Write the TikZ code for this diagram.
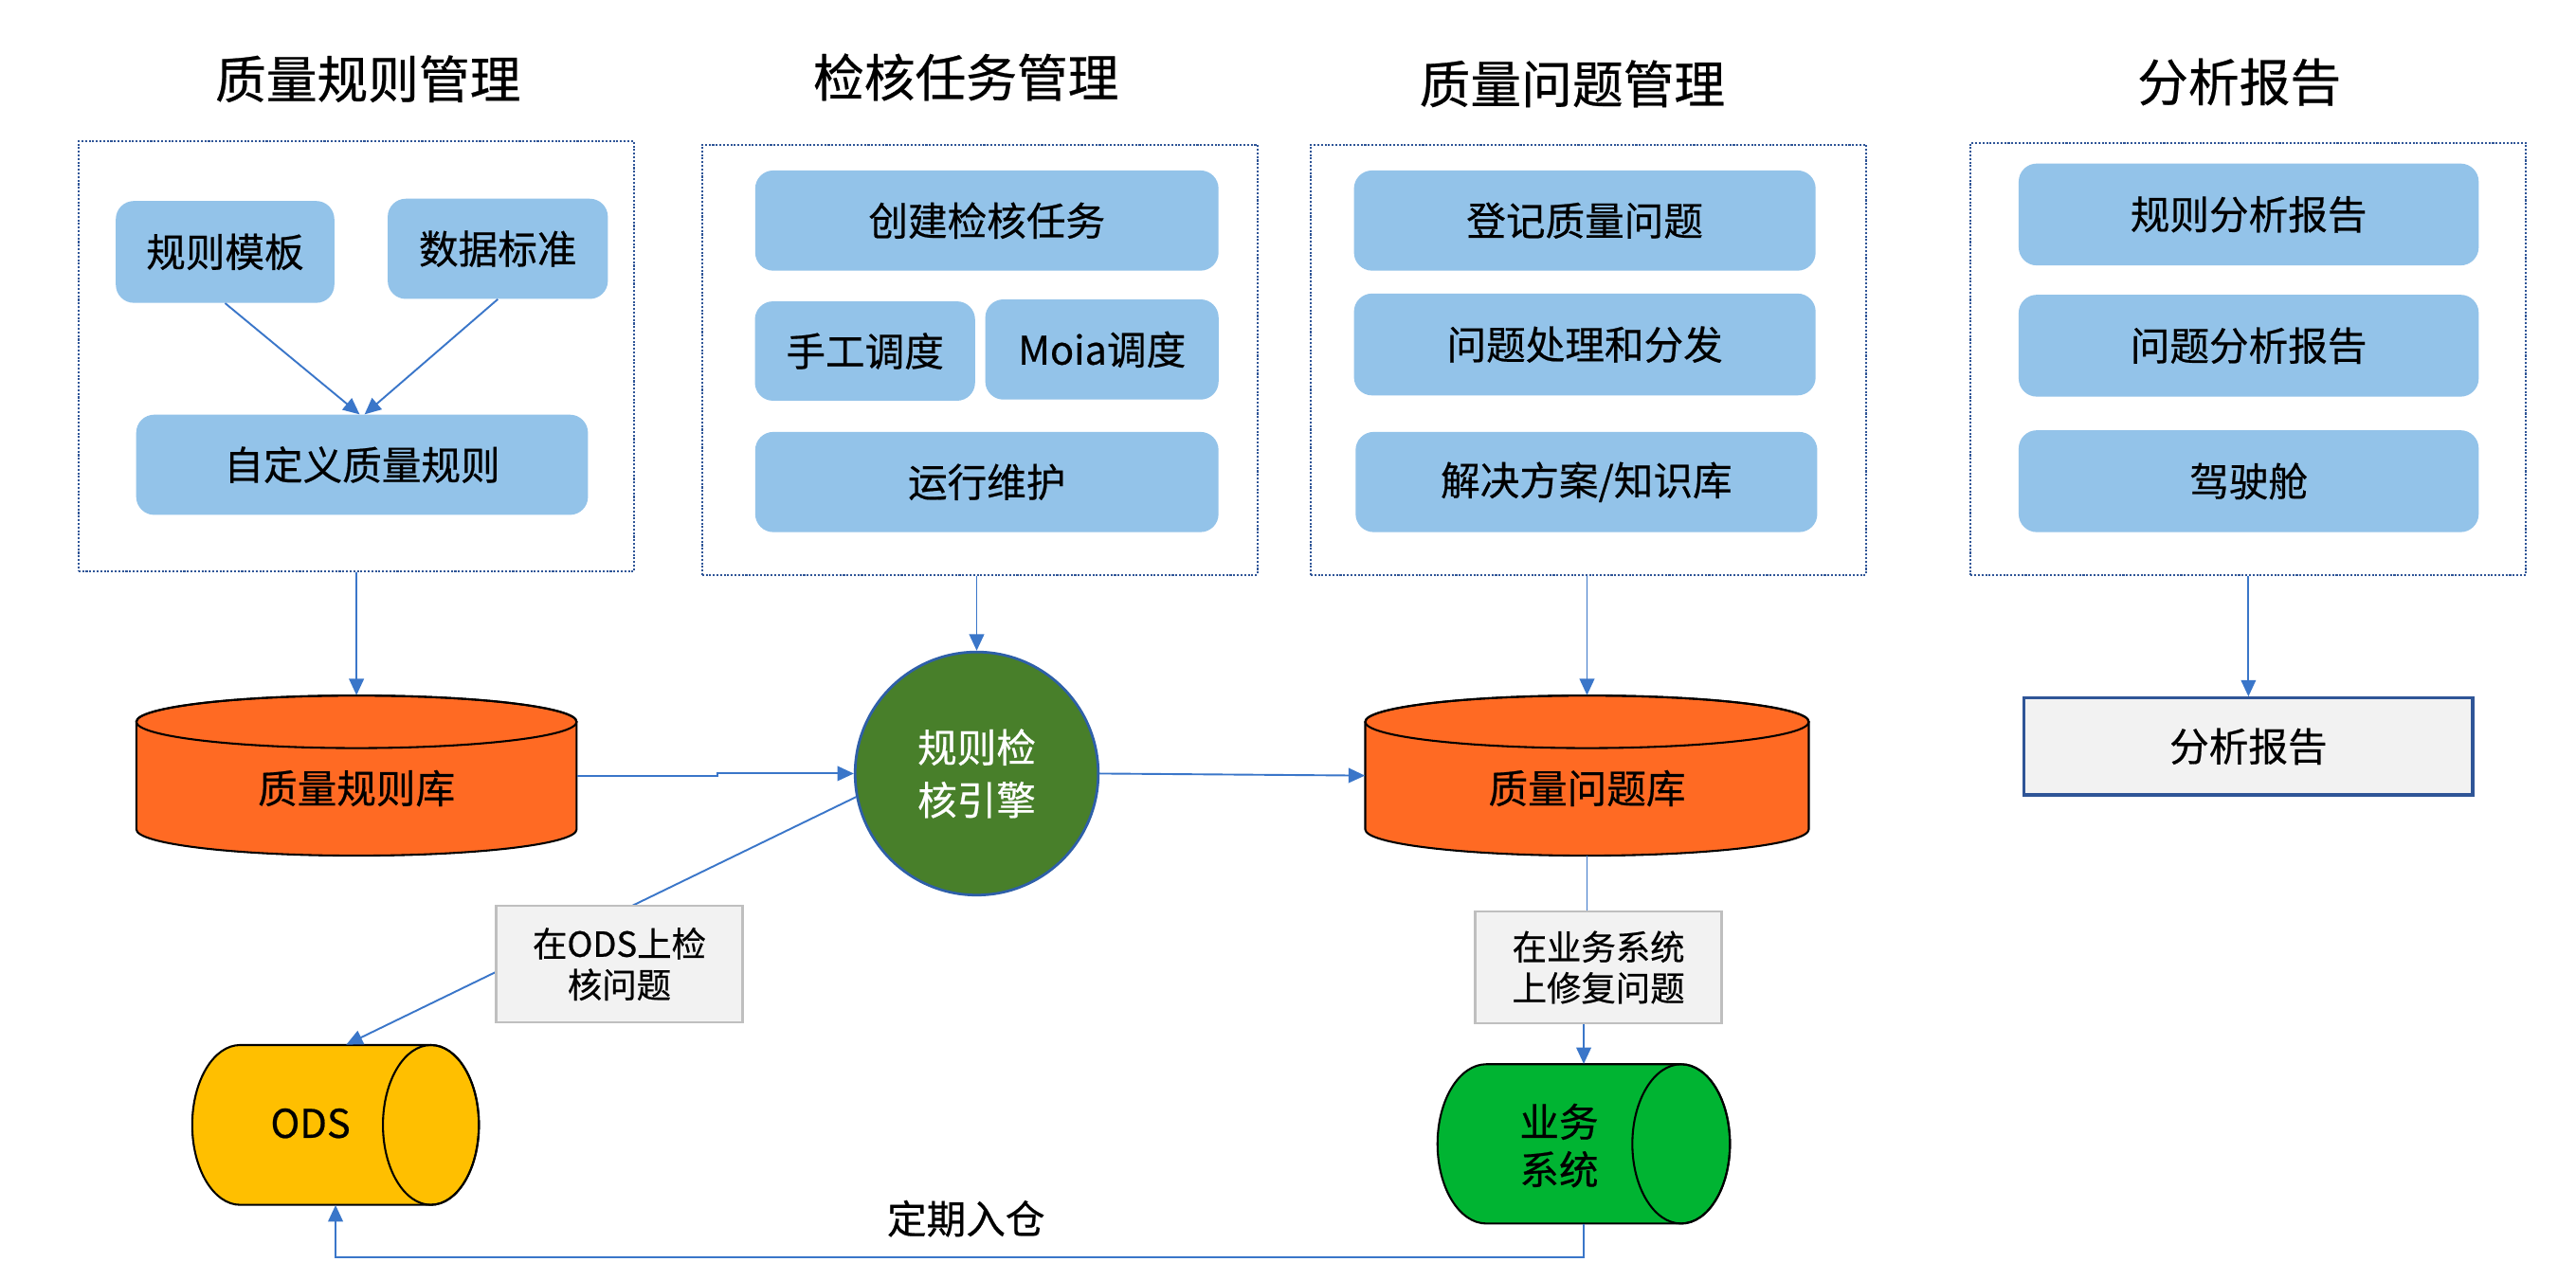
\documentclass[tikz,border=0pt]{standalone}
\usepackage{fontspec}
\setmainfont{Noto Sans CJK SC}[FakeBold=0.5]
\usetikzlibrary{arrows.meta,calc}
\definecolor{boxblue}{HTML}{93C3E9}
\definecolor{grpblue}{HTML}{2F5597}
\definecolor{arrblue}{HTML}{3A76C9}
\definecolor{cylorange}{HTML}{FF6A23}
\definecolor{odsgold}{HTML}{FFBF00}
\definecolor{bizgreen}{HTML}{00B432}
\definecolor{enggreen}{HTML}{487F2A}
\definecolor{engblue}{HTML}{2E5FA8}
\definecolor{labgray}{HTML}{F2F2F2}
\definecolor{labline}{HTML}{BFBFBF}
\tikzset{
  rbox/.style={rectangle, rounded corners=11pt, fill=boxblue, inner sep=0pt, font=\fontsize{24}{28}\selectfont},
  grp/.style={rectangle, draw=grpblue, densely dotted, line width=1.2pt, inner sep=0pt},
  ttl/.style={font=\fontsize{31}{36}\selectfont, inner sep=0pt},
  arr/.style={draw=arrblue, line width=1.1pt, -{Triangle[length=10pt,width=9pt]}},
  lnk/.style={draw=arrblue, line width=1.1pt},
  lab/.style={rectangle, fill=labgray, draw=labline, line width=1.6pt, inner sep=0pt, align=center, font=\fontsize{21}{25}\selectfont},
  cylarea/.style={rectangle, inner sep=0pt},
  cyltxt/.style={inner sep=0pt, align=center, font=\fontsize{24}{29}\selectfont},
  cylline/.style={draw=black, line width=1.2pt},
}
\begin{document}
\begin{tikzpicture}[x=1pt,y=1pt]
\useasboundingbox (0,0) rectangle (1568,-768);
\fill[white] (0,0) rectangle (1568,-768);

% titles
\node[ttl] (t1) at (224,-48) {质量规则管理};
\node[ttl] (t2) at (588,-47) {检核任务管理};
\node[ttl] (t3) at (957,-51) {质量问题管理};
\node[ttl] (t4) at (1363,-50) {分析报告};

% group frames
\node[grp, minimum width=338pt, minimum height=262pt] (g1) at (216.8,-217) {};
\node[grp, minimum width=338pt, minimum height=262pt] (g2) at (596.3,-219) {};
\node[grp, minimum width=338pt, minimum height=262pt] (g3) at (966.8,-219) {};
\node[grp, minimum width=338pt, minimum height=263pt] (g4) at (1368.5,-218.5) {};

% group 1
\node[rbox, minimum width=133pt, minimum height=62pt] (tpl) at (137,-153.4) {规则模板};
\node[rbox, minimum width=134pt, minimum height=61pt] (std) at (303,-151.5) {数据标准};
\node[rbox, minimum width=275pt, minimum height=61pt] (cust) at (220.4,-283) {自定义质量规则};
% group 2
\node[rbox, minimum width=282pt, minimum height=61pt] (create) at (600.7,-134.3) {创建检核任务};
\node[rbox, minimum width=134pt, minimum height=60.5pt] (manual) at (526.5,-213.75) {手工调度};
\node[rbox, minimum width=142pt, minimum height=61pt] (moia) at (670.75,-212.8) {Moia调度};
\node[rbox, minimum width=282pt, minimum height=61pt] (ops) at (600.7,-293.5) {运行维护};
% group 3
\node[rbox, minimum width=281pt, minimum height=61pt] (reg) at (964.65,-134.3) {登记质量问题};
\node[rbox, minimum width=281pt, minimum height=62pt] (proc) at (964.65,-209.75) {问题处理和分发};
\node[rbox, minimum width=281pt, minimum height=61pt] (sol) at (965.65,-293.5) {解决方案/知识库};
% group 4
\node[rbox, minimum width=280pt, minimum height=62pt] (r1) at (1368.75,-130.6) {规则分析报告};
\node[rbox, minimum width=280pt, minimum height=62pt] (r2) at (1368.75,-210.5) {问题分析报告};
\node[rbox, minimum width=280pt, minimum height=62pt] (r3) at (1368.75,-293) {驾驶舱};

% report box
\node[rectangle, fill=labgray, draw=grpblue, line width=1.8pt, inner sep=0pt, minimum width=273pt, minimum height=59pt, font=\fontsize{24}{28}\selectfont] (rep) at (1368.6,-454.5) {分析报告};

% cylinders (shapes)
\filldraw[fill=cylorange, cylline] (83,-439.5) -- (83,-505) arc[start angle=180, end angle=360, x radius=134, y radius=16] -- (351,-439.5) arc[start angle=0, end angle=180, x radius=134, y radius=16] -- cycle;
\draw[cylline] (217,-439.5) ellipse [x radius=134, y radius=16];
\filldraw[fill=cylorange, cylline] (831,-439.5) -- (831,-505) arc[start angle=180, end angle=360, x radius=135, y radius=16] -- (1101,-439.5) arc[start angle=0, end angle=180, x radius=135, y radius=16] -- cycle;
\draw[cylline] (966,-439.5) ellipse [x radius=135, y radius=16];
\filldraw[fill=odsgold, cylline] (146.2,-636.3) -- (262.3,-636.3) arc[start angle=90, end angle=-90, x radius=29.2, y radius=48.65] -- (146.2,-733.6) arc[start angle=270, end angle=90, x radius=29.2, y radius=48.65] -- cycle;
\draw[cylline] (262.3,-684.95) ellipse [x radius=29.2, y radius=48.65];
\filldraw[fill=bizgreen, cylline] (904.7,-648) -- (1023.3,-648) arc[start angle=90, end angle=-90, x radius=29.7, y radius=48.5] -- (904.7,-745) arc[start angle=270, end angle=90, x radius=29.7, y radius=48.5] -- cycle;
\draw[cylline] (1023.3,-696.5) ellipse [x radius=29.7, y radius=48.5];

% cylinder anchor areas and texts
\node[cylarea, minimum width=268pt, minimum height=97.5pt] (qr) at (217,-472.25) {};
\node[cyltxt] (qrT) at (217,-480) {质量规则库};
\node[cylarea, minimum width=270pt, minimum height=97.5pt] (q2) at (966,-472.25) {};
\node[cyltxt] (q2T) at (966,-480) {质量问题库};
\node[cylarea, minimum width=174.5pt, minimum height=97.3pt] (ods) at (204.25,-684.95) {};
\node[cyltxt] (odsT) at (189,-684) {ODS};
\node[cylarea, minimum width=178pt, minimum height=97pt] (biz) at (964,-696.5) {};
\node[cyltxt] (bizT) at (949,-697.5) {业务\\系统};

% engine
\node[circle, fill=enggreen, draw=engblue, line width=1.6pt, minimum size=148pt, inner sep=0pt, text=white, align=center, font=\fontsize{24}{32}\selectfont] (eng) at (594.5,-471) {规则检\\核引擎};

% connectors
\draw[arr] (tpl.south) -- ([xshift=-1.5pt]cust.north);
\draw[arr] (std.south) -- ([xshift=1.5pt]cust.north);
\draw[arr] (g1.south -| qr.north) -- (qr.north);
\draw[arr] (g2.south -| eng.north) -- (eng.north);
\draw[arr] (g3.south -| q2.north) -- (q2.north);
\draw[arr] (g4.south -| rep.north) -- (rep.north);
\draw[arr] (qr.east) -- ++(85.4,0) |- (eng.west);
\draw[arr] (eng.east) -- (q2.west);
\draw[arr] (eng.191) -- ([xshift=6.5pt]ods.north);
\node[lab, minimum width=150pt, minimum height=71pt] (lab1) at (377,-587) {在ODS上检\\核问题};
\node[lab, minimum width=150pt, minimum height=68pt] (lab2) at (973,-589) {在业务系统\\上修复问题};
\draw[lnk] (q2.south) -- (q2.south |- lab2.north);
\draw[arr] (lab2.south -| biz.north) -- (biz.north);
\draw[arr] (biz.south) -- ++(0,-20.5) -| (ods.south);
\node[cyltxt] (cang) at (588,-742) {定期入仓};
\end{tikzpicture}
\end{document}
